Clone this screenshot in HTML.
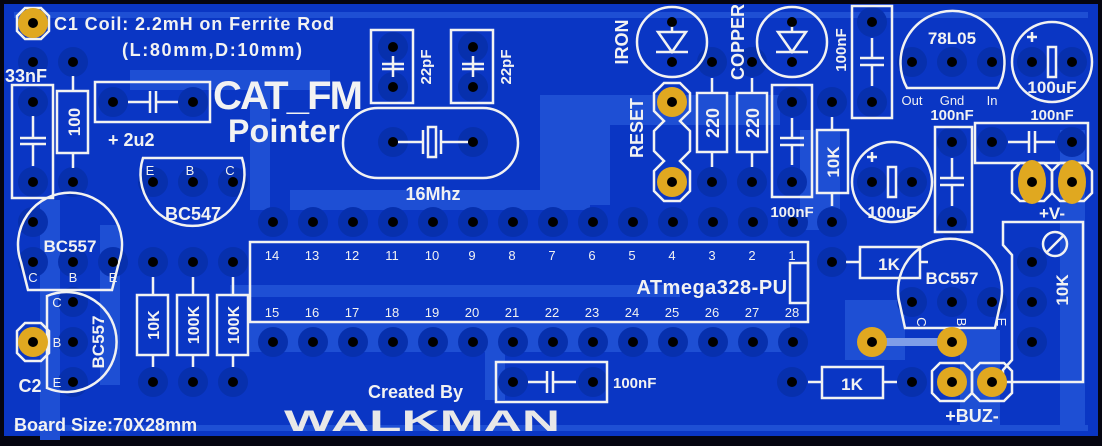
<!DOCTYPE html>
<html><head><meta charset="utf-8"><style>
html,body{margin:0;padding:0;background:#000;}
svg{display:block;}
text{font-family:"Liberation Sans",sans-serif;fill:#f2f2f2;}
</style></head><body>
<svg width="1102" height="446" viewBox="0 0 1102 446" xmlns="http://www.w3.org/2000/svg">
<rect x="0" y="0" width="1102" height="446" fill="#050510"/>
<rect x="4" y="4" width="1094" height="432" fill="#0a36c4"/>
<g fill="#1e4fd4">
<rect x="14" y="12" width="1074" height="6"/>
<rect x="130" y="70" width="200" height="20"/>
<rect x="250" y="90" width="20" height="120"/>
<rect x="290" y="190" width="300" height="20"/>
<rect x="540" y="95" width="70" height="110"/>
<rect x="600" y="95" width="180" height="30"/>
<rect x="250" y="322" width="540" height="30"/>
<rect x="230" y="285" width="450" height="12"/>
<rect x="485" y="330" width="20" height="70"/>
<rect x="100" y="225" width="20" height="160"/>
<rect x="40" y="200" width="20" height="240"/>
<rect x="800" y="130" width="40" height="100"/>
<rect x="960" y="330" width="40" height="100"/>
<rect x="845" y="300" width="60" height="60"/>
<rect x="1060" y="130" width="25" height="300"/>
<rect x="14" y="425" width="1074" height="6"/>
</g>
<g fill="#0730ad">
<circle cx="73" cy="62" r="15"/><circle cx="33" cy="62" r="15"/><circle cx="33" cy="102" r="15"/><circle cx="33" cy="182" r="15"/>
<circle cx="73" cy="182" r="15"/><circle cx="113" cy="102" r="15"/><circle cx="193" cy="102" r="15"/>
<circle cx="153" cy="182" r="15"/><circle cx="193" cy="182" r="15"/><circle cx="233" cy="182" r="15"/>
<circle cx="393" cy="47" r="15"/><circle cx="393" cy="87" r="15"/><circle cx="473" cy="47" r="15"/><circle cx="473" cy="87" r="15"/>
<circle cx="393" cy="142" r="15"/><circle cx="473" cy="142" r="15"/>
<circle cx="712" cy="62" r="15"/><circle cx="752" cy="62" r="15"/><circle cx="712" cy="182" r="15"/><circle cx="752" cy="182" r="15"/>
<circle cx="792" cy="102" r="15"/><circle cx="792" cy="182" r="15"/><circle cx="832" cy="102" r="15"/><circle cx="832" cy="222" r="15"/>
<circle cx="872" cy="22" r="15"/><circle cx="872" cy="102" r="15"/>
<circle cx="912" cy="62" r="15"/><circle cx="952" cy="62" r="15"/><circle cx="992" cy="62" r="15"/>
<circle cx="1032" cy="62" r="15"/><circle cx="1072" cy="62" r="15"/>
<circle cx="992" cy="142" r="15"/><circle cx="1072" cy="142" r="15"/>
<circle cx="872" cy="182" r="15"/><circle cx="912" cy="182" r="15"/><circle cx="952" cy="142" r="15"/><circle cx="952" cy="222" r="15"/>
<circle cx="33" cy="222" r="15"/>
<circle cx="273" cy="222" r="15"/><circle cx="313" cy="222" r="15"/><circle cx="353" cy="222" r="15"/><circle cx="393" cy="222" r="15"/><circle cx="433" cy="222" r="15"/><circle cx="473" cy="222" r="15"/><circle cx="513" cy="222" r="15"/><circle cx="553" cy="222" r="15"/><circle cx="593" cy="222" r="15"/><circle cx="633" cy="222" r="15"/><circle cx="673" cy="222" r="15"/><circle cx="713" cy="222" r="15"/><circle cx="753" cy="222" r="15"/><circle cx="793" cy="222" r="15"/>
<circle cx="273" cy="342" r="15"/><circle cx="313" cy="342" r="15"/><circle cx="353" cy="342" r="15"/><circle cx="393" cy="342" r="15"/><circle cx="433" cy="342" r="15"/><circle cx="473" cy="342" r="15"/><circle cx="513" cy="342" r="15"/><circle cx="553" cy="342" r="15"/><circle cx="593" cy="342" r="15"/><circle cx="633" cy="342" r="15"/><circle cx="673" cy="342" r="15"/><circle cx="713" cy="342" r="15"/><circle cx="753" cy="342" r="15"/><circle cx="793" cy="342" r="15"/>
<circle cx="832" cy="262" r="15"/><circle cx="912" cy="302" r="15"/><circle cx="952" cy="302" r="15"/><circle cx="992" cy="302" r="15"/>
<circle cx="1032" cy="262" r="15"/><circle cx="1032" cy="302" r="15"/><circle cx="1032" cy="342" r="15"/>
<circle cx="792" cy="382" r="15"/><circle cx="912" cy="382" r="15"/>
<circle cx="513" cy="382" r="15"/><circle cx="593" cy="382" r="15"/>
<circle cx="33" cy="262" r="15"/><circle cx="73" cy="262" r="15"/><circle cx="113" cy="262" r="15"/>
<circle cx="73" cy="302" r="15"/><circle cx="73" cy="342" r="15"/><circle cx="73" cy="382" r="15"/>
<circle cx="153" cy="262" r="15"/><circle cx="193" cy="262" r="15"/><circle cx="233" cy="262" r="15"/>
<circle cx="153" cy="382" r="15"/><circle cx="193" cy="382" r="15"/><circle cx="233" cy="382" r="15"/>
</g>
<rect x="872" y="338" width="80" height="8" fill="#7f9ee8"/>
<g fill="none" stroke="#f2f2f2" stroke-width="2.5">
<polygon points="25,8 41,8 49,16 49,31 41,39 25,39 17,31 17,16"/>
<rect x="12" y="85" width="41" height="113"/>
<line x1="33" y1="116" x2="33" y2="138"/><line x1="20" y1="138" x2="46" y2="138"/><line x1="20" y1="144" x2="46" y2="144"/><line x1="33" y1="144" x2="33" y2="166"/>
<rect x="57" y="91" width="31" height="62"/><line x1="73" y1="76" x2="73" y2="91"/><line x1="73" y1="153" x2="73" y2="168"/>
<rect x="95" y="82" width="115" height="40"/>
<line x1="128" y1="102" x2="150" y2="102"/><line x1="150" y1="91" x2="150" y2="113"/><line x1="156" y1="91" x2="156" y2="113"/><line x1="156" y1="102" x2="178" y2="102"/>
<path d="M143,158 L242,158 A52,52 0 1 1 143,158 Z"/>
<rect x="371" y="30" width="42" height="73"/><rect x="451" y="30" width="42" height="73"/>
<line x1="382" y1="64" x2="404" y2="64"/><line x1="382" y1="69" x2="404" y2="69"/><line x1="393" y1="56" x2="393" y2="77"/>
<line x1="462" y1="64" x2="484" y2="64"/><line x1="462" y1="69" x2="484" y2="69"/><line x1="473" y1="56" x2="473" y2="77"/>
<rect x="343" y="108" width="175" height="70" rx="35"/>
<line x1="398" y1="142" x2="423" y2="142"/><line x1="423" y1="130" x2="423" y2="154"/><rect x="428" y="127" width="8" height="30"/><line x1="441" y1="130" x2="441" y2="154"/><line x1="441" y1="142" x2="468" y2="142"/>
<circle cx="672" cy="42" r="35"/><circle cx="792" cy="42" r="35"/>
<path d="M656,52 L688,52 M672,52 L658,32 L686,32 Z M672,32 L672,22"/>
<path d="M776,52 L808,52 M792,52 L778,32 L806,32 Z M792,32 L792,22"/>
<polygon points="664,83 680,83 690,93 690,111 680,121 690,131 690,151 680,161 690,171 690,191 680,201 664,201 654,191 654,171 664,161 654,151 654,131 664,121 654,111 654,93"/>
<rect x="697" y="93" width="30" height="59"/><rect x="737" y="93" width="30" height="59"/>
<line x1="712" y1="78" x2="712" y2="93"/><line x1="712" y1="152" x2="712" y2="167"/><line x1="752" y1="78" x2="752" y2="93"/><line x1="752" y1="152" x2="752" y2="167"/>
<rect x="772" y="85" width="40" height="112"/>
<line x1="792" y1="118" x2="792" y2="138"/><line x1="780" y1="138" x2="804" y2="138"/><line x1="780" y1="145" x2="804" y2="145"/><line x1="792" y1="145" x2="792" y2="165"/>
<rect x="817" y="130" width="31" height="63"/><line x1="832" y1="117" x2="832" y2="130"/><line x1="832" y1="193" x2="832" y2="206"/>
<rect x="852" y="6" width="40" height="112"/>
<line x1="872" y1="38" x2="872" y2="58"/><line x1="860" y1="58" x2="884" y2="58"/><line x1="860" y1="65" x2="884" y2="65"/><line x1="872" y1="65" x2="872" y2="86"/>
<path d="M907,88 A52,52 0 1 1 998,88 Z"/>
<circle cx="1052" cy="62" r="40"/><rect x="1048" y="47" width="8" height="30"/>
<line x1="1032" y1="32" x2="1032" y2="42"/><line x1="1027" y1="37" x2="1037" y2="37"/>
<rect x="975" y="123" width="113" height="40"/>
<line x1="1008" y1="142" x2="1028" y2="142"/><line x1="1029" y1="131" x2="1029" y2="153"/><line x1="1035" y1="131" x2="1035" y2="153"/><line x1="1035" y1="142" x2="1055" y2="142"/>
<polygon points="1020,163 1044,163 1052,171 1052,193 1044,201 1020,201 1012,193 1012,171"/>
<polygon points="1060,163 1084,163 1092,171 1092,193 1084,201 1060,201 1052,193 1052,171"/>
<circle cx="892" cy="182" r="40"/><rect x="888" y="167" width="8" height="30"/>
<line x1="872" y1="152" x2="872" y2="162"/><line x1="867" y1="157" x2="877" y2="157"/>
<rect x="935" y="127" width="37" height="105"/>
<line x1="952" y1="158" x2="952" y2="178"/><line x1="940" y1="178" x2="964" y2="178"/><line x1="940" y1="185" x2="964" y2="185"/><line x1="952" y1="185" x2="952" y2="206"/>
<rect x="250" y="242" width="558" height="80"/><rect x="790" y="263" width="18" height="40"/>
<rect x="860" y="247" width="60" height="31"/><line x1="846" y1="262" x2="860" y2="262"/><line x1="920" y1="262" x2="928" y2="262"/>
<path d="M905,328 L900,305 A52,52 0 1 1 1000,305 L995,328 Z"/>
<path d="M1003,222 L1083,222 L1083,382 L1003,382 L1003,370 L1012,360 L1012,255 L1003,245 Z"/>
<circle cx="1055" cy="244" r="12"/><line x1="1047" y1="252" x2="1063" y2="236"/>
<rect x="822" y="367" width="61" height="31"/><line x1="808" y1="382" x2="822" y2="382"/><line x1="883" y1="382" x2="897" y2="382"/>
<polygon points="940,363 964,363 972,371 972,393 964,401 940,401 932,393 932,371"/>
<polygon points="980,363 1004,363 1012,371 1012,393 1004,401 980,401 972,393 972,371"/>
<rect x="496" y="362" width="111" height="40"/>
<line x1="528" y1="382" x2="546" y2="382"/><line x1="547" y1="371" x2="547" y2="393"/><line x1="553" y1="371" x2="553" y2="393"/><line x1="553" y1="382" x2="576" y2="382"/>
<path d="M28,290 L21,262 A52,52 0 1 1 119,262 L112,290 Z"/>
<path d="M47,296 A50,50 0 1 1 47,388 Z"/>
<polygon points="25,323 41,323 49,331 49,353 41,361 25,361 17,353 17,331"/>
<rect x="137" y="295" width="31" height="60"/><rect x="177" y="295" width="31" height="60"/><rect x="217" y="295" width="31" height="60"/>
<line x1="153" y1="277" x2="153" y2="295"/><line x1="153" y1="355" x2="153" y2="367"/>
<line x1="193" y1="277" x2="193" y2="295"/><line x1="193" y1="355" x2="193" y2="367"/>
<line x1="233" y1="277" x2="233" y2="295"/><line x1="233" y1="355" x2="233" y2="367"/>
</g>
<g fill="#e0a820">
<circle cx="33" cy="23" r="15"/><circle cx="672" cy="102" r="15"/><circle cx="672" cy="182" r="15"/>
<ellipse cx="1032" cy="182" rx="14" ry="22"/><ellipse cx="1072" cy="182" rx="14" ry="22"/>
<circle cx="872" cy="342" r="15"/><circle cx="952" cy="342" r="15"/>
<circle cx="952" cy="382" r="15"/><circle cx="992" cy="382" r="15"/><circle cx="33" cy="342" r="15"/>
</g>
<g fill="#000">
<circle cx="33" cy="23" r="5"/><circle cx="672" cy="102" r="5"/><circle cx="672" cy="182" r="5"/><circle cx="1032" cy="182" r="5"/><circle cx="1072" cy="182" r="5"/><circle cx="872" cy="342" r="5"/><circle cx="952" cy="342" r="5"/><circle cx="952" cy="382" r="5"/><circle cx="992" cy="382" r="5"/><circle cx="33" cy="342" r="5"/>
<circle cx="672" cy="22" r="5"/><circle cx="672" cy="62" r="5"/><circle cx="792" cy="22" r="5"/><circle cx="792" cy="62" r="5"/>
<circle cx="73" cy="62" r="5"/><circle cx="33" cy="62" r="5"/><circle cx="33" cy="102" r="5"/><circle cx="33" cy="182" r="5"/>
<circle cx="73" cy="182" r="5"/><circle cx="113" cy="102" r="5"/><circle cx="193" cy="102" r="5"/>
<circle cx="153" cy="182" r="5"/><circle cx="193" cy="182" r="5"/><circle cx="233" cy="182" r="5"/>
<circle cx="393" cy="47" r="5"/><circle cx="393" cy="87" r="5"/><circle cx="473" cy="47" r="5"/><circle cx="473" cy="87" r="5"/>
<circle cx="393" cy="142" r="5"/><circle cx="473" cy="142" r="5"/>
<circle cx="712" cy="62" r="5"/><circle cx="752" cy="62" r="5"/><circle cx="712" cy="182" r="5"/><circle cx="752" cy="182" r="5"/>
<circle cx="792" cy="102" r="5"/><circle cx="792" cy="182" r="5"/><circle cx="832" cy="102" r="5"/><circle cx="832" cy="222" r="5"/>
<circle cx="872" cy="22" r="5"/><circle cx="872" cy="102" r="5"/>
<circle cx="912" cy="62" r="5"/><circle cx="952" cy="62" r="5"/><circle cx="992" cy="62" r="5"/>
<circle cx="1032" cy="62" r="5"/><circle cx="1072" cy="62" r="5"/>
<circle cx="992" cy="142" r="5"/><circle cx="1072" cy="142" r="5"/>
<circle cx="872" cy="182" r="5"/><circle cx="912" cy="182" r="5"/><circle cx="952" cy="142" r="5"/><circle cx="952" cy="222" r="5"/>
<circle cx="33" cy="222" r="5"/>
<circle cx="273" cy="222" r="5"/><circle cx="313" cy="222" r="5"/><circle cx="353" cy="222" r="5"/><circle cx="393" cy="222" r="5"/><circle cx="433" cy="222" r="5"/><circle cx="473" cy="222" r="5"/><circle cx="513" cy="222" r="5"/><circle cx="553" cy="222" r="5"/><circle cx="593" cy="222" r="5"/><circle cx="633" cy="222" r="5"/><circle cx="673" cy="222" r="5"/><circle cx="713" cy="222" r="5"/><circle cx="753" cy="222" r="5"/><circle cx="793" cy="222" r="5"/>
<circle cx="273" cy="342" r="5"/><circle cx="313" cy="342" r="5"/><circle cx="353" cy="342" r="5"/><circle cx="393" cy="342" r="5"/><circle cx="433" cy="342" r="5"/><circle cx="473" cy="342" r="5"/><circle cx="513" cy="342" r="5"/><circle cx="553" cy="342" r="5"/><circle cx="593" cy="342" r="5"/><circle cx="633" cy="342" r="5"/><circle cx="673" cy="342" r="5"/><circle cx="713" cy="342" r="5"/><circle cx="753" cy="342" r="5"/><circle cx="793" cy="342" r="5"/>
<circle cx="832" cy="262" r="5"/><circle cx="912" cy="302" r="5"/><circle cx="952" cy="302" r="5"/><circle cx="992" cy="302" r="5"/>
<circle cx="1032" cy="262" r="5"/><circle cx="1032" cy="302" r="5"/><circle cx="1032" cy="342" r="5"/>
<circle cx="792" cy="382" r="5"/><circle cx="912" cy="382" r="5"/>
<circle cx="513" cy="382" r="5"/><circle cx="593" cy="382" r="5"/>
<circle cx="33" cy="262" r="5"/><circle cx="73" cy="262" r="5"/><circle cx="113" cy="262" r="5"/>
<circle cx="73" cy="302" r="5"/><circle cx="73" cy="342" r="5"/><circle cx="73" cy="382" r="5"/>
<circle cx="153" cy="262" r="5"/><circle cx="193" cy="262" r="5"/><circle cx="233" cy="262" r="5"/>
<circle cx="153" cy="382" r="5"/><circle cx="193" cy="382" r="5"/><circle cx="233" cy="382" r="5"/>
</g>
<g font-weight="bold">
<text x="54" y="30" font-size="18" textLength="280">C1  Coil: 2.2mH on Ferrite Rod</text>
<text x="122" y="56" font-size="18" textLength="180">(L:80mm,D:10mm)</text>
<text x="5" y="82" font-size="18">33nF</text>
<text x="80" y="122" font-size="17" text-anchor="middle" transform="rotate(-90 80 122)">100</text>
<text x="108" y="146" font-size="18">+  2u2</text>
<text x="213" y="109" font-size="40" textLength="150">CAT_FM</text>
<text x="228" y="142" font-size="32" textLength="112">Pointer</text>
<text x="193" y="220" font-size="18" text-anchor="middle">BC547</text>
<text x="431" y="67" font-size="15" text-anchor="middle" transform="rotate(-90 431 67)">22pF</text>
<text x="511" y="67" font-size="15" text-anchor="middle" transform="rotate(-90 511 67)">22pF</text>
<text x="433" y="200" font-size="18" text-anchor="middle">16Mhz</text>
<text x="628" y="42" font-size="18" text-anchor="middle" transform="rotate(-90 628 42)">IRON</text>
<text x="744" y="42" font-size="18" text-anchor="middle" transform="rotate(-90 744 42)">COPPER</text>
<text x="643" y="128" font-size="18" text-anchor="middle" transform="rotate(-90 643 128)">RESET</text>
<text x="719" y="123" font-size="18" text-anchor="middle" transform="rotate(-90 719 123)">220</text>
<text x="759" y="123" font-size="18" text-anchor="middle" transform="rotate(-90 759 123)">220</text>
<text x="839" y="162" font-size="17" text-anchor="middle" transform="rotate(-90 839 162)">10K</text>
<text x="846" y="50" font-size="15" text-anchor="middle" transform="rotate(-90 846 50)">100nF</text>
<text x="792" y="217" font-size="15" text-anchor="middle">100nF</text>
<text x="952" y="44" font-size="17" text-anchor="middle">78L05</text>
<text x="952" y="120" font-size="15" text-anchor="middle">100nF</text>
<text x="1052" y="120" font-size="15" text-anchor="middle">100nF</text>
<text x="1052" y="93" font-size="17" text-anchor="middle">100uF</text>
<text x="892" y="218" font-size="17" text-anchor="middle">100uF</text>
<text x="1052" y="219" font-size="17" text-anchor="middle">+V-</text>
<text x="712" y="294" font-size="20" text-anchor="middle" letter-spacing="0.5">ATmega328-PU</text>
<text x="889" y="270" font-size="17" text-anchor="middle">1K</text>
<text x="952" y="284" font-size="17" text-anchor="middle">BC557</text>
<text x="1068" y="290" font-size="17" text-anchor="middle" transform="rotate(-90 1068 290)">10K</text>
<text x="852" y="390" font-size="17" text-anchor="middle">1K</text>
<text x="972" y="422" font-size="18" text-anchor="middle">+BUZ-</text>
<text x="613" y="388" font-size="15">100nF</text>
<text x="70" y="252" font-size="17" text-anchor="middle">BC557</text>
<text x="104" y="342" font-size="17" text-anchor="middle" transform="rotate(-90 104 342)">BC557</text>
<text x="30" y="392" font-size="18" text-anchor="middle">C2</text>
<text x="159" y="325" font-size="16" text-anchor="middle" transform="rotate(-90 159 325)">10K</text>
<text x="199" y="325" font-size="16" text-anchor="middle" transform="rotate(-90 199 325)">100K</text>
<text x="239" y="325" font-size="16" text-anchor="middle" transform="rotate(-90 239 325)">100K</text>
<text x="14" y="431" font-size="18">Board Size:70X28mm</text>
<text x="368" y="398" font-size="18">Created By</text>
<text x="284" y="431" font-size="30" textLength="276" lengthAdjust="spacingAndGlyphs" style="fill:#e8e8e8">WALKMAN</text>
</g>
<g font-size="13">
<text x="150" y="175" text-anchor="middle">E</text><text x="190" y="175" text-anchor="middle">B</text><text x="230" y="175" text-anchor="middle">C</text>
<text x="912" y="105" text-anchor="middle">Out</text><text x="952" y="105" text-anchor="middle">Gnd</text><text x="992" y="105" text-anchor="middle">In</text>
<text x="33" y="282" text-anchor="middle">C</text><text x="73" y="282" text-anchor="middle">B</text><text x="113" y="282" text-anchor="middle">E</text>
<text x="57" y="307" text-anchor="middle">C</text><text x="57" y="347" text-anchor="middle">B</text><text x="57" y="387" text-anchor="middle">E</text>
<text x="272" y="260" text-anchor="middle">14</text><text x="312" y="260" text-anchor="middle">13</text><text x="352" y="260" text-anchor="middle">12</text><text x="392" y="260" text-anchor="middle">11</text><text x="432" y="260" text-anchor="middle">10</text><text x="472" y="260" text-anchor="middle">9</text><text x="512" y="260" text-anchor="middle">8</text><text x="552" y="260" text-anchor="middle">7</text><text x="592" y="260" text-anchor="middle">6</text><text x="632" y="260" text-anchor="middle">5</text><text x="672" y="260" text-anchor="middle">4</text><text x="712" y="260" text-anchor="middle">3</text><text x="752" y="260" text-anchor="middle">2</text><text x="792" y="260" text-anchor="middle">1</text>
<text x="272" y="317" text-anchor="middle">15</text><text x="312" y="317" text-anchor="middle">16</text><text x="352" y="317" text-anchor="middle">17</text><text x="392" y="317" text-anchor="middle">18</text><text x="432" y="317" text-anchor="middle">19</text><text x="472" y="317" text-anchor="middle">20</text><text x="512" y="317" text-anchor="middle">21</text><text x="552" y="317" text-anchor="middle">22</text><text x="592" y="317" text-anchor="middle">23</text><text x="632" y="317" text-anchor="middle">24</text><text x="672" y="317" text-anchor="middle">25</text><text x="712" y="317" text-anchor="middle">26</text><text x="752" y="317" text-anchor="middle">27</text><text x="792" y="317" text-anchor="middle">28</text>
<text x="917" y="322" text-anchor="middle" transform="rotate(90 917 322)">C</text><text x="957" y="322" text-anchor="middle" transform="rotate(90 957 322)">B</text><text x="997" y="322" text-anchor="middle" transform="rotate(90 997 322)">E</text>
</g>
</svg>
</body></html>
